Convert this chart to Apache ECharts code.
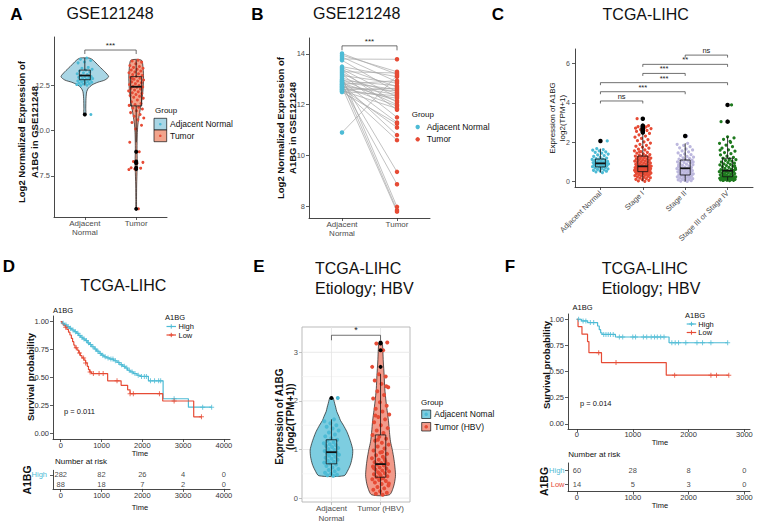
<!DOCTYPE html>
<html>
<head>
<meta charset="utf-8">
<title>A1BG expression and survival</title>
<script src="https://cdn.jsdelivr.net/npm/echarts@6.0.0/dist/echarts.min.js"></script>
<style>
  html, body { margin: 0; padding: 0; background: #ffffff; }
  #main { width: 758px; height: 526px; }
</style>
</head>
<body>
<div id="main"></div>
<script>
// ---------- values ----------

// A / B : GSE121248
const gseGroups = ['Adjacent\nNormal', 'Tumor'];
// paired samples in B, the normal column is also the normal group of A
const gseNormal = [14.02, 13.95, 13.88, 13.8, 13.75, 13.5, 13.45, 13.4, 13.35, 13.3, 13.25, 13.2, 13.15, 13.1,
  13.05, 13.0, 12.98, 12.95, 12.92, 12.9, 12.88, 12.85, 12.82, 12.8, 12.78, 12.75, 12.72, 12.7, 12.68,
  12.65, 12.62, 12.6, 12.58, 12.55, 12.52, 12.5, 10.9];
const gsePairedTumor = [13.2, 13.3, 12.9, 13.79, 12.5, 13.1, 12.7, 12.3, 11.8, 13.25, 12.1, 11.5, 12.85, 7.97,
  12.45, 12.0, 9.35, 12.75, 11.3, 7.84, 12.6, 12.15, 10.8, 12.95, 8.86, 12.4, 11.95, 7.78, 12.55,
  11.1, 12.25, 10.6, 12.65, 11.85, 12.35, 11.25, 13.15];
const gseTumorAll = [13.9, 13.85, 13.79, 13.7, 13.6, 13.55, 13.5, 13.45, 13.4, 13.35, 13.3, 13.25, 13.2, 13.15,
  13.1, 13.05, 13.0, 12.95, 12.9, 12.85, 12.8, 12.75, 12.7, 12.65, 12.6, 12.55, 12.5, 12.45, 12.42, 12.4,
  12.35, 12.3, 12.25, 12.2, 12.15, 12.1, 12.05, 12.0, 11.95, 11.9, 11.85, 11.8, 11.7, 11.6, 11.5, 11.45,
  11.4, 11.3, 11.25, 11.2, 11.1, 11.0, 10.9, 10.8, 10.7, 10.6, 10.45, 10.3, 10.1, 9.36, 8.84, 8.3, 8.25,
  8.2, 7.95, 7.93, 7.88, 7.85, 5.68, 12.88];
// [min, Q1, median, Q3, max]
const boxA = [[12.5, 12.82, 13.05, 13.35, 14.02], [9.36, 11.37, 12.43, 12.99, 13.9]];
const outliersA = [[1, 10.9], [2, 8.84], [2, 8.3], [2, 8.25], [2, 8.2], [2, 7.95], [2, 7.88], [2, 5.68]];
// violin outline: [value, relative density]
const violinA = [
  [[10.9, 0.04], [11.24, 0.04], [11.79, 0.05], [12.16, 0.08], [12.35, 0.15], [12.53, 0.3], [12.68, 0.55],
   [12.8, 0.84], [12.99, 1.0], [13.26, 0.84], [13.54, 0.62], [13.81, 0.42], [13.95, 0.3], [14.02, 0.18]],
  [[5.68, 0.012], [6.2, 0.015], [7.0, 0.02], [7.9, 0.04], [8.3, 0.045], [9.0, 0.035], [9.77, 0.045],
   [10.32, 0.07], [10.87, 0.13], [11.42, 0.2], [12.16, 0.28], [12.9, 0.31], [13.45, 0.29], [13.9, 0.22]]
];
const sigA = [[1, 2, 14.46, '***']];
const sigB = [[1, 2, 14.32, '***']];
const ticksA = [7.5, 10, 12.5];
const ticksB = [8, 10, 12, 14];

// C : TCGA-LIHC by stage
const stageGroups = ['Adjacent Normal', 'Stage I', 'Stage II', 'Stage III or Stage IV'];
const stageNormal = [0.46, 0.5, 0.53, 0.55, 0.58, 0.6, 0.63, 0.65, 0.67, 0.7, 0.72, 0.74, 0.76, 0.78, 0.8,
  0.82, 0.84, 0.85, 0.87, 0.89, 0.9, 0.92, 0.93, 0.94, 0.96, 0.97, 0.99, 1.01, 1.03, 1.05, 1.07, 1.09,
  1.11, 1.13, 1.15, 1.17, 1.2, 1.24, 1.28, 1.32, 1.36, 1.4, 1.45, 1.49, 1.52, 1.56, 1.6, 1.63, 1.68, 2.07];
const stageI = [0.02, 0.04, 0.07, 0.1, 0.12, 0.15, 0.18, 0.2, 0.22, 0.25, 0.27, 0.29, 0.31, 0.33, 0.35,
  0.36, 0.38, 0.4, 0.41, 0.43, 0.44, 0.46, 0.47, 0.48, 0.49, 0.5, 0.51, 0.52, 0.53, 0.54, 0.55, 0.56,
  0.57, 0.58, 0.59, 0.6, 0.61, 0.62, 0.63, 0.64, 0.65, 0.66, 0.67, 0.68, 0.69, 0.7, 0.71, 0.72, 0.73,
  0.74, 0.75, 0.76, 0.77, 0.78, 0.79, 0.8, 0.82, 0.84, 0.86, 0.88, 0.9, 0.92, 0.94, 0.96, 0.98, 1.0,
  1.02, 1.04, 1.06, 1.08, 1.1, 1.12, 1.14, 1.16, 1.18, 1.2, 1.22, 1.24, 1.26, 1.28, 1.3, 1.32, 1.35,
  1.38, 1.41, 1.45, 1.49, 1.53, 1.57, 1.61, 1.65, 1.7, 1.75, 1.8, 1.85, 1.9, 1.96, 2.02, 2.08, 2.14,
  2.2, 2.26, 2.32, 2.38, 2.45, 2.5, 2.55, 2.6, 2.65, 2.7, 2.75, 2.8, 2.85, 2.62, 2.72, 2.78, 1.52,
  0.95, 0.45, 3.2];
const stageII = [0.01, 0.03, 0.05, 0.07, 0.09, 0.11, 0.13, 0.15, 0.17, 0.19, 0.21, 0.23, 0.25, 0.27, 0.29,
  0.31, 0.33, 0.34, 0.36, 0.38, 0.4, 0.42, 0.44, 0.46, 0.48, 0.5, 0.52, 0.54, 0.56, 0.58, 0.6, 0.62,
  0.64, 0.66, 0.68, 0.7, 0.72, 0.74, 0.77, 0.8, 0.83, 0.86, 0.89, 0.92, 0.95, 0.98, 1.01, 1.04, 1.07,
  1.1, 1.12, 1.15, 1.18, 1.21, 1.25, 1.29, 1.33, 1.37, 1.41, 1.46, 1.51, 1.56, 1.61, 1.66, 1.72, 1.78,
  1.84, 1.9, 1.95, 0.35, 0.57, 0.65, 0.85, 0.24, 0.12, 1.0, 2.32, 0.45, 0.75, 0.28];
const stageIII = [0.05, 0.06, 0.07, 0.08, 0.09, 0.1, 0.11, 0.12, 0.13, 0.14, 0.15, 0.16, 0.17, 0.18, 0.19,
  0.2, 0.21, 0.22, 0.23, 0.24, 0.25, 0.27, 0.29, 0.31, 0.33, 0.35, 0.37, 0.39, 0.41, 0.43, 0.45, 0.47,
  0.49, 0.51, 0.53, 0.55, 0.56, 0.58, 0.61, 0.64, 0.67, 0.7, 0.73, 0.76, 0.79, 0.82, 0.85, 0.88, 0.91,
  0.94, 0.97, 1.0, 1.04, 1.08, 1.12, 1.16, 1.19, 1.24, 1.3, 1.36, 1.42, 1.48, 1.55, 1.62, 1.7, 1.78,
  1.86, 1.95, 2.05, 2.15, 2.22, 2.28, 3.05, 3.9, 0.3, 0.62, 1.1, 0.16, 0.52, 0.09, 1.6, 2.0, 0.4, 0.8, 3.05];
const boxC = [[0.46, 0.75, 0.93, 1.15, 1.68], [0.02, 0.51, 0.78, 1.3, 2.45],
  [0.01, 0.34, 0.68, 1.1, 1.95], [0.05, 0.25, 0.56, 1.19, 2.28]];
const outliersC = [[1, 2.07], [2, 2.5], [2, 2.55], [2, 2.6], [2, 2.65], [2, 2.7], [2, 2.75], [2, 2.8],
  [2, 2.85], [2, 3.2], [3, 2.32], [4, 3.05], [4, 3.9]];
const sigC = [[1, 2, 4.10, 'ns'], [1, 3, 4.57, '***'], [1, 4, 5.03, '***'], [2, 3, 5.50, '***'],
  [2, 4, 5.96, '**'], [3, 4, 6.43, 'ns']];
const ticksC = [0, 2, 4, 6];

// D : TCGA-LIHC survival, [time, survival]
const kmD_high = [[0, 1], [40, 0.985], [90, 0.97], [150, 0.955], [210, 0.94], [270, 0.925], [330, 0.91],
  [390, 0.895], [440, 0.875], [490, 0.86], [540, 0.845], [600, 0.83], [650, 0.81], [700, 0.795],
  [760, 0.775], [820, 0.755], [880, 0.735], [940, 0.715], [1000, 0.7], [1060, 0.685], [1130, 0.675],
  [1200, 0.665], [1300, 0.65], [1380, 0.635], [1450, 0.615], [1520, 0.6], [1580, 0.585], [1640, 0.565],
  [1700, 0.55], [1780, 0.535], [1870, 0.52], [1950, 0.51], [2150, 0.47], [2510, 0.31], [3130, 0.235],
  [3710, 0.235]];
const kmD_low = [[0, 1], [30, 0.98], [70, 0.965], [110, 0.95], [150, 0.93], [190, 0.905], [225, 0.88],
  [260, 0.85], [290, 0.82], [320, 0.79], [350, 0.765], [400, 0.745], [440, 0.72], [480, 0.695],
  [520, 0.675], [570, 0.655], [610, 0.63], [650, 0.6], [680, 0.57], [710, 0.55], [750, 0.535],
  [1150, 0.47], [1480, 0.43], [1640, 0.39], [1700, 0.355], [2500, 0.29], [3260, 0.148], [3460, 0.148]];
const censorD_high = [60, 130, 180, 240, 300, 360, 420, 470, 520, 570, 630, 680, 730, 790, 850, 910, 970,
  1030, 1090, 1160, 1230, 1280, 1340, 1420, 1490, 1560, 1620, 1680, 1750, 1820, 1900, 1980, 2050, 2100,
  2200, 2300, 2400, 2450, 2780, 3480, 3700];
const censorD_low = [120, 380, 460, 560, 610, 720, 800, 940, 1040, 1380, 1700, 1780, 2420, 2780, 3450];
const timeTicksD = [0, 1000, 2000, 3000, 4000];
const riskD_high = [282, 82, 26, 4, 0];
const riskD_low = [88, 18, 7, 2, 0];

// E : TCGA-LIHC HBV
const hbvGroups = ['Adjacent\nNormal', 'Tumor (HBV)'];
const hbvNormal = [0.46, 0.47, 0.48, 0.5, 0.52, 0.55, 0.58, 0.6, 0.63, 0.66, 0.69, 0.71, 0.73, 0.75, 0.77,
  0.79, 0.81, 0.83, 0.85, 0.87, 0.89, 0.91, 0.93, 0.94, 0.95, 0.97, 0.99, 1.01, 1.03, 1.05, 1.07, 1.09,
  1.11, 1.13, 1.15, 1.18, 1.2, 1.23, 1.27, 1.31, 1.35, 1.39, 1.43, 1.47, 1.5, 1.54, 1.58, 1.62, 0.9, 2.06];
const hbvTumor = [0.07, 0.09, 0.11, 0.14, 0.17, 0.2, 0.23, 0.26, 0.29, 0.32, 0.35, 0.37, 0.39, 0.41, 0.43,
  0.45, 0.47, 0.49, 0.51, 0.53, 0.55, 0.57, 0.59, 0.61, 0.63, 0.65, 0.67, 0.69, 0.7, 0.72, 0.74, 0.76,
  0.79, 0.82, 0.85, 0.88, 0.91, 0.94, 0.98, 1.02, 1.06, 1.1, 1.14, 1.18, 1.22, 1.26, 1.3, 1.34, 1.39,
  1.44, 1.5, 1.56, 1.62, 1.67, 1.72, 1.78, 1.84, 1.9, 1.97, 2.05, 2.12, 2.2, 2.28, 2.35, 2.42, 2.5,
  2.55, 2.7, 3.04, 3.18, 3.2, 0.4, 0.62, 0.8, 1.2, 0.3, 0.95, 1.7, 2.3, 0.5];
const boxE = [[0.46, 0.705, 0.945, 1.2, 1.62], [0.07, 0.43, 0.7, 1.3, 2.55]];
const outliersE = [[1, 2.06], [2, 2.7], [2, 3.04], [2, 3.18], [2, 3.2]];
const violinE = [
  [[0.46, 0.59], [0.58, 0.78], [0.7, 0.9], [0.85, 0.98], [0.99, 1.0], [1.12, 0.93], [1.25, 0.83],
   [1.37, 0.72], [1.5, 0.56], [1.6, 0.42], [1.68, 0.35], [1.78, 0.25], [1.87, 0.2], [1.95, 0.15],
   [2.02, 0.11], [2.06, 0.08]],
  [[0.07, 0.42], [0.25, 0.62], [0.45, 0.7], [0.62, 0.68], [0.8, 0.63], [1.0, 0.55], [1.16, 0.47],
   [1.35, 0.42], [1.6, 0.37], [1.8, 0.31], [1.98, 0.26], [2.25, 0.2], [2.53, 0.17], [2.8, 0.13],
   [3.01, 0.11], [3.2, 0.07]]
];
const sigE = [[1, 2, 3.35, '*']];
const ticksE = [0, 1, 2, 3];
const minorE = [0.5, 1.5, 2.5];

// F : TCGA-LIHC HBV survival
const kmF_high = [[0, 1], [80, 0.984], [190, 0.968], [370, 0.935], [400, 0.9], [425, 0.87], [450, 0.855],
  [690, 0.83], [1650, 0.775], [2700, 0.775]];
const kmF_low = [[0, 1], [20, 0.93], [90, 0.857], [190, 0.786], [215, 0.68], [440, 0.585], [1600, 0.465],
  [2720, 0.465]];
const censorF_high = [30, 110, 160, 240, 300, 480, 520, 560, 600, 650, 760, 820, 1000, 1050, 1190, 1250,
  1330, 1390, 1440, 1500, 1560, 1700, 1760, 1820, 1950, 2150, 2250, 2400, 2700];
const censorF_low = [390, 700, 1750, 2400, 2500, 2720];
const timeTicksF = [0, 1000, 2000, 3000];
const riskF_high = [60, 28, 8, 0];
const riskF_low = [14, 5, 3, 0];

const survTicks = [0, 0.25, 0.5, 0.75, 1];
const riskRows = ['High', 'Low'];

// ---------- styles ----------
const FONT = '"Liberation Sans", Arial, Helvetica, sans-serif';
const AX = '#333333';
const TT = '#4d4d4d';
const CYAN = '#4DBBD5', RED = '#E64B35', LAV = '#BDB8DE', GREEN = '#1F7A1F';
const PLUS = 'path://M2,0H3V2H5V3H3V5H2V3H0V2H2Z';

// ---------- helpers ----------
function jitter(values, cat, spread) {
  return values.map((v, i) => [cat + ((((i + 1) * 0.6180339887) % 1) - 0.5) * 2 * spread, v]);
}
function survAt(curve, t) {
  let s = curve[0][1];
  for (const [ct, cs] of curve) if (ct <= t) s = cs;
  return s;
}

function catX(grid, labels, o) {
  const vals = labels.map((_, i) => i + 1);
  return {
    type: 'value', gridIndex: grid, min: 0.4, max: labels.length + 0.6,
    axisLine: { show: o.line !== false, onZero: false, lineStyle: { color: AX, width: 0.9 } },
    axisTick: { show: true, customValues: vals, length: 3, lineStyle: { color: o.tick || AX, width: 0.8 } },
    axisLabel: { customValues: vals, formatter: v => labels[Math.round(v) - 1], color: TT, fontFamily: FONT,
      fontSize: o.fs || 8, lineHeight: 9.5, margin: o.margin, rotate: o.rotate || 0 },
    splitLine: { show: false }
  };
}
function valY(grid, min, max, ticks, digits, o) {
  return {
    type: 'value', gridIndex: grid, min, max,
    axisLine: { show: o.line !== false, onZero: false, lineStyle: { color: AX, width: 0.9 } },
    axisTick: { show: true, customValues: ticks, length: 3, lineStyle: { color: o.tick || AX, width: 0.8 } },
    axisLabel: { customValues: ticks, formatter: v => v.toFixed(digits), color: o.color || TT, fontFamily: FONT,
      fontSize: o.fs || 7.5, margin: o.margin || 4 },
    splitLine: { show: false }
  };
}
function timeX(grid, min, max, ticks, margin) {
  return {
    type: 'value', gridIndex: grid, min, max,
    axisLine: { show: true, onZero: false, lineStyle: { color: AX, width: 0.9 } },
    axisTick: { show: true, customValues: ticks, length: 3, lineStyle: { color: AX, width: 0.8 } },
    axisLabel: { customValues: ticks, formatter: v => String(v), color: '#333', fontFamily: FONT, fontSize: 7.5, margin },
    splitLine: { show: false }
  };
}
function rowY(grid, margin) {
  return {
    type: 'category', gridIndex: grid, data: riskRows, inverse: true,
    axisLine: { show: true, onZero: false, lineStyle: { color: AX, width: 0.9 } },
    axisTick: { show: true, alignWithLabel: true, length: 3, lineStyle: { color: AX, width: 0.8 } },
    axisLabel: { color: v => (v === 'High' ? CYAN : RED), fontFamily: FONT, fontSize: 7.5, margin },
    splitLine: { show: false }
  };
}

function violin(grid, profiles, fills, halfPx) {
  return {
    type: 'custom', xAxisIndex: grid, yAxisIndex: grid, silent: true, z: 1,
    data: profiles.map((p, i) => [i + 1, p[0][0]]),
    renderItem(params, api) {
      const prof = profiles[params.dataIndex];
      const cat = api.value(0);
      const right = [], left = [];
      for (const [v, d] of prof) {
        const c = api.coord([cat, v]);
        right.push([c[0] + d * halfPx, c[1]]);
        left.unshift([c[0] - d * halfPx, c[1]]);
      }
      return { type: 'polygon', shape: { points: right.concat(left), smooth: 0.25 },
        style: { fill: fills[params.dataIndex], stroke: '#1a1a1a', lineWidth: 0.7 } };
    }
  };
}
function boxes(grid, stats, widthPx) {
  return {
    type: 'custom', xAxisIndex: grid, yAxisIndex: grid, silent: true, z: 3,
    data: stats.map((s, i) => [i + 1].concat(s)),
    renderItem(params, api) {
      const cat = api.value(0);
      const y = k => api.coord([cat, api.value(k)])[1];
      const x = api.coord([cat, api.value(1)])[0];
      const h = widthPx / 2;
      const seg = (x1, y1, x2, y2, w) => ({ type: 'line', shape: { x1, y1, x2, y2 }, style: { stroke: '#111', lineWidth: w } });
      return { type: 'group', children: [
        seg(x, y(1), x, y(2), 0.8),
        seg(x, y(4), x, y(5), 0.8),
        { type: 'rect', shape: { x: x - h, y: y(4), width: 2 * h, height: y(2) - y(4) },
          style: { fill: 'rgba(255,255,255,0)', stroke: '#111', lineWidth: 0.8 } },
        seg(x - h, y(3), x + h, y(3), 1.8)
      ] };
    }
  };
}
function dots(grid, data, color, size, z) {
  return { type: 'scatter', xAxisIndex: grid, yAxisIndex: grid, data, symbolSize: size,
    itemStyle: { color, opacity: 1 }, silent: true, z: z || 2 };
}
function brackets(grid, sig, tipPx, fs) {
  return {
    type: 'custom', xAxisIndex: grid, yAxisIndex: grid, silent: true, z: 5,
    data: sig.map(s => [s[0], s[2], s[1]]),
    renderItem(params, api) {
      const a = api.coord([api.value(0), api.value(1)]);
      const b = api.coord([api.value(2), api.value(1)]);
      return { type: 'group', children: [
        { type: 'polyline', shape: { points: [[a[0], a[1] + tipPx], a, b, [b[0], b[1] + tipPx]] },
          style: { stroke: '#333', lineWidth: 0.7, fill: 'none' } },
        { type: 'text', x: (a[0] + b[0]) / 2, y: a[1] - 0.5,
          style: { text: sig[params.dataIndex][3], fontSize: fs, fontFamily: FONT, fill: '#222',
            align: 'center', verticalAlign: 'bottom', textAlign: 'center', textVerticalAlign: 'bottom' } }
      ] };
    }
  };
}
function panelLines(grid, yVals, xVals, color, w) {
  return {
    type: 'custom', xAxisIndex: grid, yAxisIndex: grid, silent: true, z: 0,
    data: yVals.map(v => [1, v, 0]).concat(xVals.map(v => [v, 1, 1])),
    renderItem(params, api) {
      const cs = params.coordSys;
      if (api.value(2) === 0) {
        const yy = api.coord([1, api.value(1)])[1];
        return { type: 'line', shape: { x1: cs.x, y1: yy, x2: cs.x + cs.width, y2: yy }, style: { stroke: color, lineWidth: w } };
      }
      const xx = api.coord([api.value(0), 1])[0];
      return { type: 'line', shape: { x1: xx, y1: cs.y, x2: xx, y2: cs.y + cs.height }, style: { stroke: color, lineWidth: w } };
    }
  };
}
function km(grid, curve, color) {
  return { type: 'line', xAxisIndex: grid, yAxisIndex: grid, data: curve, step: 'end', showSymbol: false,
    symbol: 'none', lineStyle: { color, width: 1.2 }, silent: true, z: 2 };
}
function censor(grid, curve, times, color) {
  return { type: 'scatter', xAxisIndex: grid, yAxisIndex: grid, data: times.map(t => [t, survAt(curve, t)]),
    symbol: PLUS, symbolSize: 5, itemStyle: { color }, silent: true, z: 3 };
}
function risk(grid, times, counts, row) {
  return { type: 'scatter', xAxisIndex: grid, yAxisIndex: grid, data: times.map((t, i) => [t, row, counts[i]]),
    symbolSize: 1, itemStyle: { color: 'rgba(0,0,0,0)' }, silent: true,
    label: { show: true, position: 'inside', formatter: p => String(p.value[2]), color: '#111', fontSize: 7.5, fontFamily: FONT } };
}

// graphic helpers
function txt(x, y, text, size, o) {
  o = o || {};
  const align = o.align || 'left';
  return { type: 'text', x, y, rotation: o.rot || 0, silent: true,
    style: { text, fill: o.color || '#111', fontSize: size, fontFamily: FONT, fontWeight: o.bold ? 'bold' : 'normal',
      lineHeight: o.lh || size, align, verticalAlign: 'middle', textAlign: align, textVerticalAlign: 'middle' } };
}
function rectEl(x, y, w, h, fill) {
  return { type: 'rect', shape: { x, y, width: w, height: h }, silent: true, style: { fill, stroke: '#111', lineWidth: 0.7 } };
}
function dotEl(cx, cy, r, fill) {
  return { type: 'circle', shape: { cx, cy, r }, silent: true, style: { fill } };
}
function segEl(x1, y1, x2, y2, stroke, w) {
  return { type: 'line', shape: { x1, y1, x2, y2 }, silent: true, style: { stroke, lineWidth: w } };
}
function kmKey(x, y, color) {
  return [segEl(x, y, x + 9.5, y, color, 1.2), segEl(x + 4.75, y - 2.2, x + 4.75, y + 2.2, color, 1), segEl(x + 2.55, y, x + 6.95, y, color, 1)];
}

const fillA = ['#A9D6E5', '#F1A48C'];
const fillE = ['#7DCDE0', '#F29A8A'];
const rot = Math.PI / 2;

const option = {
  animation: false,
  backgroundColor: '#ffffff',
  textStyle: { fontFamily: FONT },
  grid: [
    { left: 54, top: 37, width: 113, height: 180 },          // 0 A
    { left: 309, top: 38, width: 121, height: 180 },         // 1 B
    { left: 575, top: 49, width: 178, height: 138 },         // 2 C
    { left: 53, top: 316, width: 177, height: 123 },         // 3 D curve
    { left: 53, top: 470.3, width: 177, height: 18.6 },      // 4 D table
    { left: 302, top: 327, width: 108, height: 175, show: true, borderColor: '#b3b3b3', borderWidth: 0.9, backgroundColor: 'rgba(0,0,0,0)' }, // 5 E
    { left: 568, top: 314, width: 182, height: 115 },        // 6 F curve
    { left: 568, top: 463, width: 182, height: 28.6 }        // 7 F table
  ],
  xAxis: [
    catX(0, gseGroups, { margin: 1.5 }),
    catX(1, gseGroups, { margin: 1.5 }),
    catX(2, stageGroups, { margin: 5, rotate: 45, fs: 7.5 }),
    timeX(3, -190, 4150, timeTicksD, 2),
    timeX(4, -190, 4150, timeTicksD, 3),
    catX(5, hbvGroups, { margin: 2, line: false, tick: '#b3b3b3' }),
    timeX(6, -160, 3100, timeTicksF, 1.5),
    timeX(7, -160, 3100, timeTicksF, 2)
  ],
  yAxis: [
    valY(0, 5.23, 15.18, ticksA, 1, {}),
    valY(1, 7.53, 14.63, ticksB, 0, {}),
    valY(2, -0.27, 6.74, ticksC, 0, { fs: 7, margin: 5 }),
    valY(3, -0.05, 1.05, survTicks, 2, { color: '#333' }),
    rowY(4, 6),
    valY(5, -0.08, 3.52, ticksE, 0, { line: false, tick: '#b3b3b3', margin: 4 }),
    valY(6, -0.05, 1.05, survTicks, 2, { color: '#333' }),
    rowY(7, 3.5)
  ],
  series: [
    // A
    violin(0, violinA, fillA, 23.8),
    dots(0, jitter(gseNormal, 1, 0.16), CYAN, 3),
    dots(0, jitter(gseTumorAll, 2, 0.15), RED, 3),
    boxes(0, boxA, 11),
    dots(0, outliersA, '#000', 4, 4),
    brackets(0, sigA, 4, 8),
    // B
    {
      type: 'custom', xAxisIndex: 1, yAxisIndex: 1, silent: true, z: 1,
      data: gseNormal.map((n, i) => [1, n, 2, gsePairedTumor[i]]),
      renderItem(params, api) {
        const a = api.coord([api.value(0), api.value(1)]);
        const b = api.coord([api.value(2), api.value(3)]);
        return { type: 'line', shape: { x1: a[0], y1: a[1], x2: b[0], y2: b[1] }, style: { stroke: '#a8a8a8', lineWidth: 0.7 } };
      }
    },
    dots(1, gseNormal.map(v => [1, v]), CYAN, 4.5),
    dots(1, gsePairedTumor.map(v => [2, v]), RED, 4.5),
    brackets(1, sigB, 4.5, 8),
    // C
    dots(2, jitter(stageNormal, 1, 0.2), CYAN, 3.2),
    dots(2, jitter(stageI, 2, 0.2), RED, 3.2),
    dots(2, jitter(stageII, 3, 0.2), LAV, 3.2),
    dots(2, jitter(stageIII, 4, 0.2), GREEN, 3.2),
    boxes(2, boxC, 10),
    dots(2, outliersC, '#000', 4.5, 4),
    brackets(2, sigC, 2.5, 7.5),
    // D
    km(3, kmD_high, CYAN),
    km(3, kmD_low, RED),
    censor(3, kmD_high, censorD_high, CYAN),
    censor(3, kmD_low, censorD_low, RED),
    risk(4, timeTicksD, riskD_high, 0),
    risk(4, timeTicksD, riskD_low, 1),
    // E
    panelLines(5, minorE, [], '#f2f2f2', 0.6),
    panelLines(5, ticksE, [1, 2], '#e3e3e3', 0.8),
    violin(5, violinE, fillE, 21.3),
    dots(5, jitter(hbvNormal, 1, 0.16), CYAN, 4),
    dots(5, jitter(hbvTumor, 2, 0.18), RED, 4),
    boxes(5, boxE, 10.5),
    dots(5, outliersE, '#000', 4, 4),
    brackets(5, sigE, 5, 9),
    // F
    km(6, kmF_high, CYAN),
    km(6, kmF_low, RED),
    censor(6, kmF_high, censorF_high, CYAN),
    censor(6, kmF_low, censorF_low, RED),
    risk(7, timeTicksF, riskF_high, 0),
    risk(7, timeTicksF, riskF_low, 1)
  ],
  graphic: [
    // panel letters
    txt(16.5, 14, 'A', 17, { bold: true, align: 'center', color: '#000' }),
    txt(257.5, 14, 'B', 17, { bold: true, align: 'center', color: '#000' }),
    txt(498, 14, 'C', 17, { bold: true, align: 'center', color: '#000' }),
    txt(9, 266, 'D', 17, { bold: true, align: 'center', color: '#000' }),
    txt(259, 266, 'E', 17, { bold: true, align: 'center', color: '#000' }),
    txt(510, 266, 'F', 17, { bold: true, align: 'center', color: '#000' }),
    // titles
    txt(110, 13.5, 'GSE121248', 16, { align: 'center' }),
    txt(356.7, 13.5, 'GSE121248', 16, { align: 'center' }),
    txt(645.7, 14, 'TCGA-LIHC', 16, { align: 'center' }),
    txt(123.3, 285, 'TCGA-LIHC', 16, { align: 'center' }),
    txt(315, 278, 'TCGA-LIHC\nEtiology; HBV', 16, { lh: 20 }),
    txt(601.7, 278, 'TCGA-LIHC\nEtiology; HBV', 16, { lh: 20 }),
    // axis titles
    txt(28, 132, 'Log2 Normalized Expression of\nA1BG in GSE121248', 9.5, { bold: true, align: 'center', rot, lh: 12.5 }),
    txt(286.5, 128, 'Log2 Normalized Expression of\nA1BG in GSE121248', 9.5, { bold: true, align: 'center', rot, lh: 12.5 }),
    txt(557.5, 118, 'Expression of A1BG\nlog2(TPM+1)', 8, { align: 'center', rot, lh: 9.5 }),
    txt(30, 377, 'Survival probability', 9.5, { bold: true, align: 'center', rot }),
    txt(284.7, 416.7, 'Expression of A1BG\n(log2(TPM+1))', 10, { bold: true, align: 'center', rot, lh: 11 }),
    txt(546, 365, 'Survival probability', 9.5, { bold: true, align: 'center', rot }),
    txt(26.5, 480, 'A1BG', 10.5, { bold: true, align: 'center', rot }),
    txt(544, 481.5, 'A1BG', 10.5, { bold: true, align: 'center', rot }),
    // A legend
    txt(155, 110, 'Group', 8),
    rectEl(154, 118.3, 12.7, 11.7, fillA[0]), dotEl(160.3, 124.2, 1.3, CYAN),
    rectEl(154, 130, 12.7, 11.7, fillA[1]), dotEl(160.3, 135.8, 1.3, RED),
    txt(170, 124, 'Adjacent Normal', 8.5),
    txt(170, 136, 'Tumor', 8.5),
    // B legend
    txt(411.7, 114, 'Group', 8),
    dotEl(417.7, 127, 2.2, CYAN), txt(426.7, 127, 'Adjacent Normal', 8.5),
    dotEl(417.7, 139.3, 2.2, RED), txt(426.7, 139.3, 'Tumor', 8.5),
    // E legend
    txt(421, 402, 'Group', 8),
    rectEl(421.7, 410, 9, 8.5, fillE[0]), dotEl(426.2, 414.2, 1.8, CYAN),
    rectEl(421.7, 422.5, 9, 8.5, fillE[1]), dotEl(426.2, 426.7, 1.8, RED),
    txt(434.3, 414.3, 'Adjacent Nomal', 8.5),
    txt(434.3, 426.7, 'Tumor (HBV)', 8.5),
    // D texts
    txt(53, 310, 'A1BG', 7.5),
    txt(64, 411, 'p = 0.011', 7.5),
    txt(140, 453.5, 'Time', 7.5, { align: 'center' }),
    txt(55, 461.7, 'Number at risk', 8),
    txt(140, 507.5, 'Time', 7.5, { align: 'center' }),
    txt(165, 317, 'A1BG', 7.5),
    ...kmKey(166.5, 326.5, CYAN), txt(178.5, 326.5, 'High', 7.5),
    ...kmKey(166.5, 335, RED), txt(178.5, 335, 'Low', 7.5),
    // F texts
    txt(572.5, 307.3, 'A1BG', 7.5),
    txt(580, 403.5, 'p = 0.014', 7.5),
    txt(660, 442.5, 'Time', 7.5, { align: 'center' }),
    txt(568.3, 454, 'Number at risk', 8),
    txt(660, 505.5, 'Time', 7.5, { align: 'center' }),
    txt(685, 315.5, 'A1BG', 7.5),
    ...kmKey(686.7, 324, CYAN), txt(698.3, 324, 'High', 7.5),
    ...kmKey(686.7, 332.5, RED), txt(698.3, 332.5, 'Low', 7.5)
  ]
};

const chart = echarts.init(document.getElementById('main'), null, { renderer: 'svg' });
chart.setOption(option);
</script>
</body>
</html>
